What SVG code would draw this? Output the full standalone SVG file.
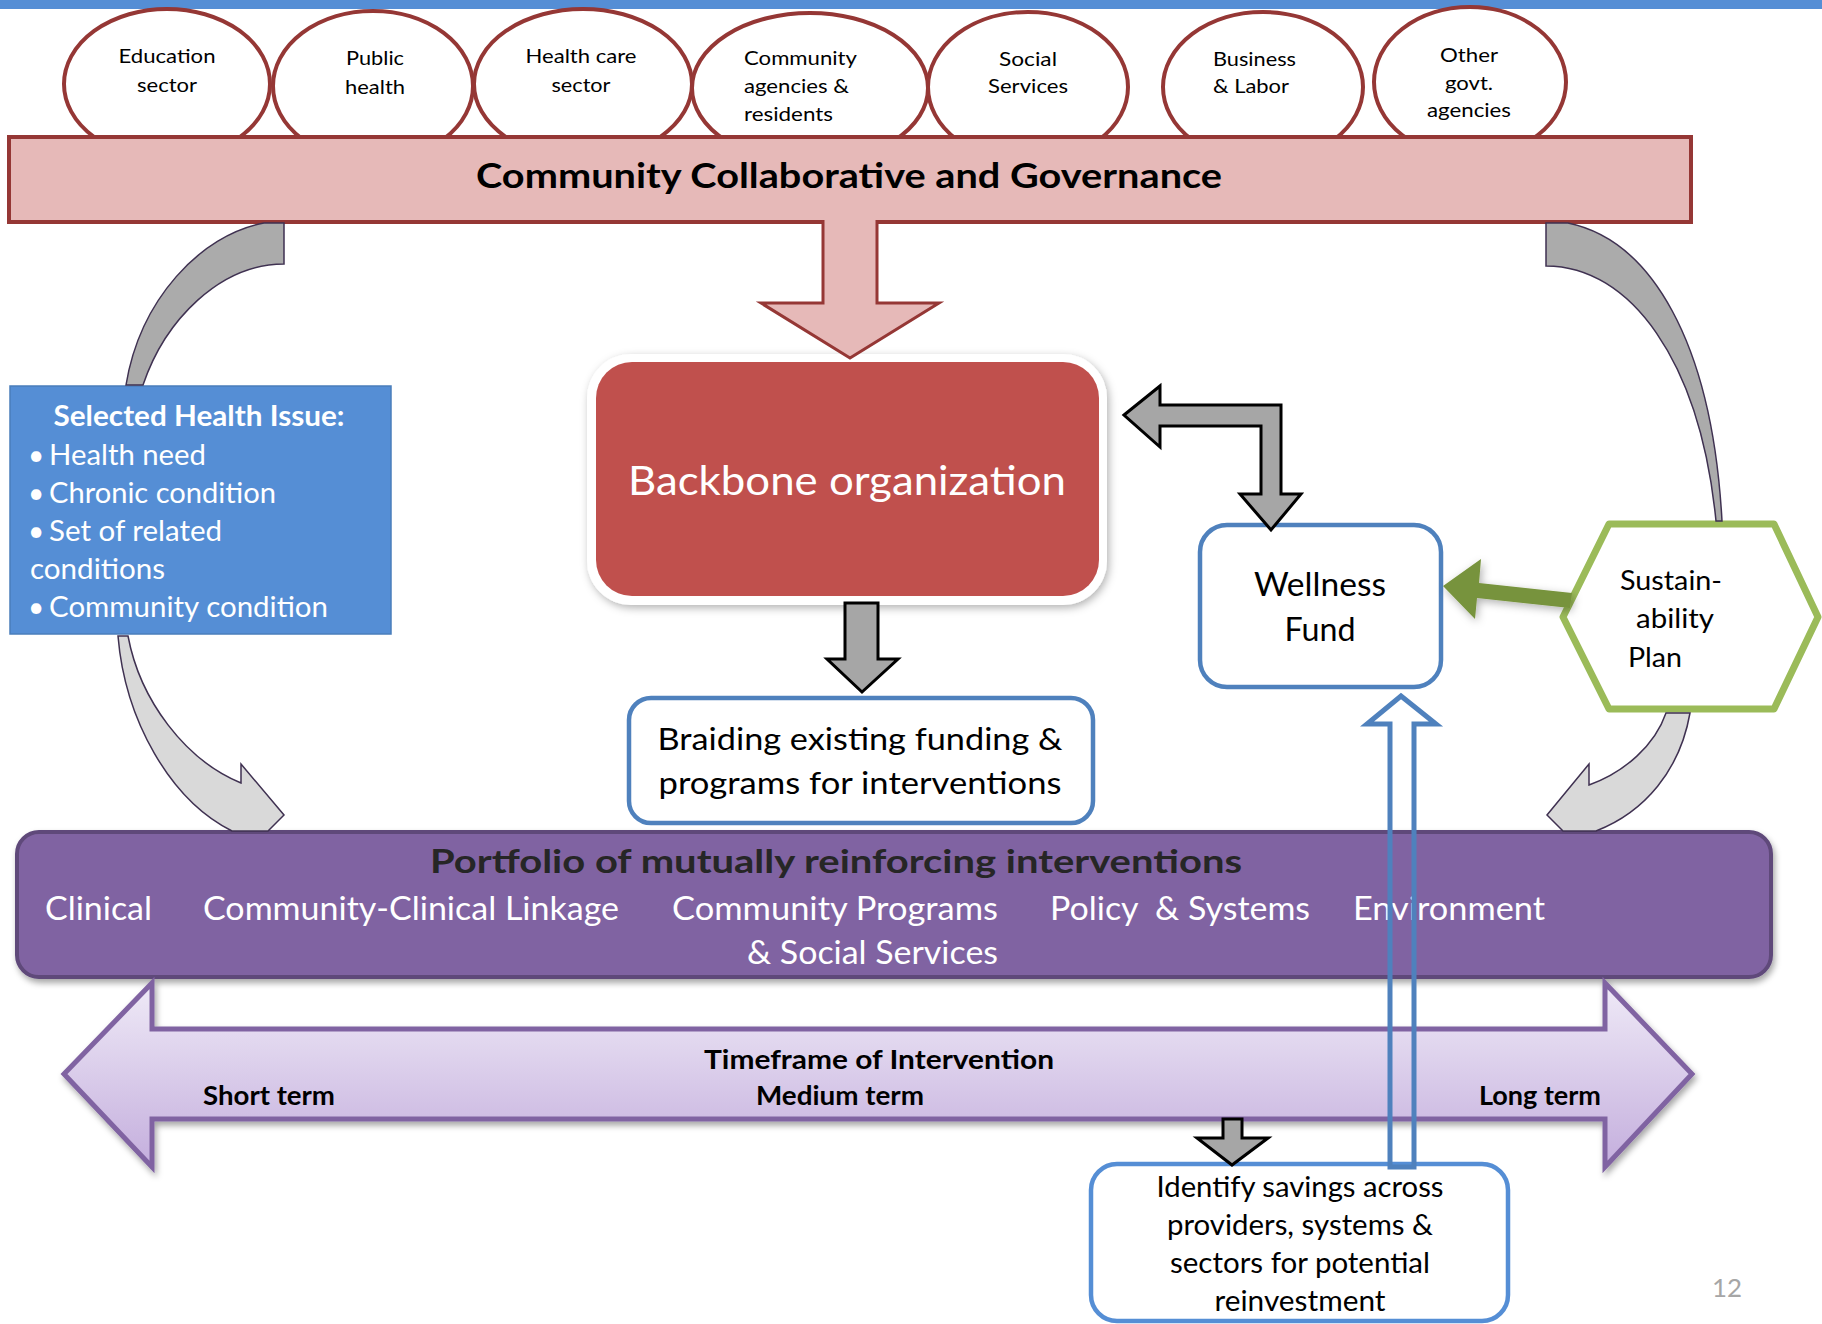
<svg xmlns="http://www.w3.org/2000/svg" width="1822" height="1324" viewBox="0 0 1822 1324">
<defs>
<style>
text{font-family:Lato,"Open Sans","Liberation Sans",sans-serif}
.el{fill:#fff;stroke:#953735;stroke-width:4}
.lbl{font-size:20px;fill:#000}
.box{fill:#fff;stroke:#4F81BD;stroke-width:4.5}
.gray{fill:#A6A6A6;stroke:#000;stroke-width:3;stroke-linejoin:miter}
.cdark{fill:#ABABAB;stroke:#3F3151;stroke-width:1.5}
.clight{fill:#D9D9D9;stroke:#3F3151;stroke-width:1.5}
.wht{fill:#fff}
.b{font-weight:bold}
</style>
<linearGradient id="tf" x1="0" y1="0" x2="0" y2="1">
<stop offset="0" stop-color="#EFEAF7"/>
<stop offset="1" stop-color="#C4AEDD"/>
</linearGradient>
<filter id="sh" x="-5%" y="-10%" width="112%" height="130%">
<feDropShadow dx="2" dy="4" stdDeviation="3" flood-color="#000" flood-opacity="0.35"/>
</filter>
<filter id="sh2" x="-10%" y="-10%" width="125%" height="130%">
<feDropShadow dx="2" dy="3" stdDeviation="4" flood-color="#000" flood-opacity="0.3"/>
</filter>
</defs>
<rect x="0" y="0" width="1822" height="9" fill="#558ED5"/>

<g id="n-education"><ellipse class="el" cx="167" cy="84" rx="103" ry="75"/>
<text class="lbl" x="167" y="63" text-anchor="middle" textLength="97" lengthAdjust="spacingAndGlyphs">Education</text>
<text class="lbl" x="167" y="92" text-anchor="middle" textLength="60" lengthAdjust="spacingAndGlyphs">sector</text></g>
<g id="n-publichealth"><ellipse class="el" cx="373" cy="86" rx="100" ry="75"/>
<text class="lbl" x="375" y="65" text-anchor="middle" textLength="58" lengthAdjust="spacingAndGlyphs">Public</text>
<text class="lbl" x="375" y="94" text-anchor="middle" textLength="60" lengthAdjust="spacingAndGlyphs">health</text></g>
<g id="n-healthcare"><ellipse class="el" cx="583" cy="84" rx="109" ry="75"/>
<text class="lbl" x="581" y="63" text-anchor="middle" textLength="111" lengthAdjust="spacingAndGlyphs">Health care</text>
<text class="lbl" x="581" y="92" text-anchor="middle" textLength="59" lengthAdjust="spacingAndGlyphs">sector</text></g>
<g id="n-community"><ellipse class="el" cx="810" cy="88" rx="118" ry="75"/>
<text class="lbl" x="744" y="65" textLength="113" lengthAdjust="spacingAndGlyphs">Community</text>
<text class="lbl" x="744" y="93" textLength="105" lengthAdjust="spacingAndGlyphs">agencies &amp;</text>
<text class="lbl" x="744" y="121" textLength="89" lengthAdjust="spacingAndGlyphs">residents</text></g>
<g id="n-social"><ellipse class="el" cx="1028" cy="87" rx="100" ry="75"/>
<text class="lbl" x="1028" y="66" text-anchor="middle" textLength="58" lengthAdjust="spacingAndGlyphs">Social</text>
<text class="lbl" x="1028" y="93" text-anchor="middle" textLength="80" lengthAdjust="spacingAndGlyphs">Services</text></g>
<g id="n-business"><ellipse class="el" cx="1263" cy="87" rx="100" ry="75"/>
<text class="lbl" x="1213" y="66" textLength="83" lengthAdjust="spacingAndGlyphs">Business</text>
<text class="lbl" x="1213" y="93" textLength="76" lengthAdjust="spacingAndGlyphs">&amp; Labor</text></g>
<g id="n-othergovt"><ellipse class="el" cx="1470" cy="82" rx="96" ry="75"/>
<text class="lbl" x="1469" y="62" text-anchor="middle" textLength="58" lengthAdjust="spacingAndGlyphs">Other</text>
<text class="lbl" x="1469" y="90" text-anchor="middle" textLength="48" lengthAdjust="spacingAndGlyphs">govt.</text>
<text class="lbl" x="1469" y="117" text-anchor="middle" textLength="84" lengthAdjust="spacingAndGlyphs">agencies</text></g>

<g id="n-collaborative"><rect x="9" y="137" width="1682" height="85" fill="#E6B9B8" stroke="#953735" stroke-width="4"/>
<text class="b" x="849" y="188" font-size="35" text-anchor="middle" fill="#000" textLength="746" lengthAdjust="spacingAndGlyphs">Community Collaborative and Governance</text></g>

<g id="n-healthissue"><rect x="10" y="386" width="381" height="248" fill="#558ED5" stroke="#4A7EBB" stroke-width="1.5"/>
<text class="b wht" x="199" y="426" font-size="28" text-anchor="middle" textLength="291" lengthAdjust="spacingAndGlyphs">Selected Health Issue:</text>
<text class="wht" x="28" y="465" font-size="28">•</text><text class="wht" x="49" y="465" font-size="28" textLength="157" lengthAdjust="spacingAndGlyphs">Health need</text>
<text class="wht" x="28" y="503" font-size="28">•</text><text class="wht" x="49" y="503" font-size="28" textLength="227" lengthAdjust="spacingAndGlyphs">Chronic condition</text>
<text class="wht" x="28" y="541" font-size="28">•</text><text class="wht" x="49" y="541" font-size="28" textLength="173" lengthAdjust="spacingAndGlyphs">Set of related</text>
<text class="wht" x="30" y="579" font-size="28" textLength="135" lengthAdjust="spacingAndGlyphs">conditions</text>
<text class="wht" x="28" y="617" font-size="28">•</text><text class="wht" x="49" y="617" font-size="28" textLength="279" lengthAdjust="spacingAndGlyphs">Community condition</text></g>

<g id="n-backbone"><rect x="587" y="354" width="520" height="251" rx="44" fill="#fff" filter="url(#sh2)"/>
<rect x="596" y="362" width="503" height="234" rx="36" fill="#C0504D"/>
<text class="wht" x="847" y="495" font-size="40" text-anchor="middle" textLength="438" lengthAdjust="spacingAndGlyphs">Backbone organization</text></g>

<g id="n-wellness"><rect class="box" x="1200" y="525" width="241" height="162" rx="27"/>
<text x="1320" y="596" font-size="33" text-anchor="middle" textLength="132" lengthAdjust="spacingAndGlyphs">Wellness</text>
<text x="1320" y="641" font-size="33" text-anchor="middle" textLength="71" lengthAdjust="spacingAndGlyphs">Fund</text></g>

<g id="n-sustainability"><polygon points="1563,617 1609,524 1774,524 1818,617 1774,709 1609,709" fill="#fff" stroke="#9BBB59" stroke-width="7" stroke-linejoin="round"/>
<text x="1620" y="590" font-size="26" textLength="102" lengthAdjust="spacingAndGlyphs">Sustain-</text>
<text x="1636" y="628" font-size="26" textLength="78" lengthAdjust="spacingAndGlyphs">ability</text>
<text x="1628" y="667" font-size="26" textLength="54" lengthAdjust="spacingAndGlyphs">Plan</text></g>

<g id="n-braiding"><rect class="box" x="629" y="698" width="464" height="125" rx="22"/>
<text x="860" y="750" font-size="31" text-anchor="middle" textLength="405" lengthAdjust="spacingAndGlyphs">Braiding existing funding &amp;</text>
<text x="860" y="794" font-size="31" text-anchor="middle" textLength="403" lengthAdjust="spacingAndGlyphs">programs for interventions</text></g>

<g id="n-portfolio"><rect x="17" y="832" width="1754" height="145" rx="22" fill="#8064A2" stroke="#5F497A" stroke-width="4" filter="url(#sh)"/>
<text class="b" x="836" y="873" font-size="32" text-anchor="middle" fill="#262626" textLength="812" lengthAdjust="spacingAndGlyphs">Portfolio of mutually reinforcing interventions</text>
<text class="wht" x="45" y="920" font-size="32" textLength="107" lengthAdjust="spacingAndGlyphs">Clinical</text>
<text class="wht" x="203" y="920" font-size="32" textLength="416" lengthAdjust="spacingAndGlyphs">Community-Clinical Linkage</text>
<text class="wht" x="672" y="920" font-size="32" textLength="326" lengthAdjust="spacingAndGlyphs">Community Programs</text>
<text class="wht" x="1050" y="920" font-size="32" xml:space="preserve" textLength="260" lengthAdjust="spacingAndGlyphs">Policy  &amp; Systems</text>
<text class="wht" x="1353" y="920" font-size="32" textLength="192" lengthAdjust="spacingAndGlyphs">Environment</text>
<text class="wht" x="747" y="964" font-size="32" textLength="251" lengthAdjust="spacingAndGlyphs">&amp; Social Services</text></g>

<g id="n-timeframe"><polygon points="64,1074 152,983 152,1029 1605,1029 1605,983 1692,1074 1605,1167 1605,1119 152,1119 152,1167" fill="url(#tf)" stroke="#8064A2" stroke-width="5" stroke-linejoin="miter" filter="url(#sh)"/>
<text class="b" x="879" y="1069" font-size="26" text-anchor="middle" fill="#000" textLength="350" lengthAdjust="spacingAndGlyphs">Timeframe of Intervention</text>
<text class="b" x="203" y="1105" font-size="26" fill="#000" textLength="132" lengthAdjust="spacingAndGlyphs">Short term</text>
<text class="b" x="756" y="1105" font-size="26" fill="#000" textLength="168" lengthAdjust="spacingAndGlyphs">Medium term</text>
<text class="b" x="1479" y="1105" font-size="26" fill="#000" textLength="122" lengthAdjust="spacingAndGlyphs">Long term</text></g>

<g id="n-identify"><rect x="1091" y="1164" width="417" height="157" rx="26" fill="#fff" stroke="#558ED5" stroke-width="4.5"/>
<text x="1300" y="1197" font-size="28" text-anchor="middle" textLength="287" lengthAdjust="spacingAndGlyphs">Identify savings across</text>
<text x="1300" y="1235" font-size="28" text-anchor="middle" textLength="266" lengthAdjust="spacingAndGlyphs">providers, systems &amp;</text>
<text x="1300" y="1273" font-size="28" text-anchor="middle" textLength="260" lengthAdjust="spacingAndGlyphs">sectors for potential</text>
<text x="1300" y="1311" font-size="28" text-anchor="middle" textLength="171" lengthAdjust="spacingAndGlyphs">reinvestment</text></g>

<g id="page-number"><text x="1712" y="1297" font-size="25" fill="#A6A6A6" textLength="30" lengthAdjust="spacingAndGlyphs">12</text></g>

<g id="connectors">
<path class="cdark" d="M284 223 L284 264 C220 264 165 320 143 385 L126 385 C140 300 200 235 264 223 Z"/>
<path class="clight" d="M128 636 C140 700 185 760 241 783 L241 764 L284 815 L268 831 L232 831 C170 800 125 720 118 636 Z"/>
<path class="cdark" d="M1546 223 L1546 266 C1630 266 1700 360 1716 521 L1722 521 C1712 340 1650 240 1568 223 Z"/>
<path class="clight" d="M1666 713 C1655 745 1625 772 1589 785 L1589 764 L1547 815 L1563 831 L1596 831 C1645 812 1680 770 1690 713 Z"/>
<polygon points="823,220 877,220 877,303 939,303 850,358 761,303 823,303" fill="#E6B9B8"/>
<polyline points="823,220 823,303 761,303 850,358 939,303 877,303 877,220" fill="none" stroke="#953735" stroke-width="3" stroke-linejoin="miter"/>
<polygon class="gray" points="845,603 878,603 878,659 898,659 862,692 827,659 845,659"/>
<polygon class="gray" points="1124,415 1160,386 1160,405 1281,405 1281,494 1301,494 1271,530 1240,494 1261,494 1261,426 1160,426 1160,447"/>
<polygon points="1443,586 1481,559 1479,583 1572,593 1570,608 1477,598 1475,619" fill="#77933C" filter="url(#sh2)"/>
<polygon class="gray" points="1223,1119 1242,1119 1242,1138 1268,1138 1232,1165 1197,1138 1223,1138"/>
<path d="M1390 1167 L1390 724 L1367 724 L1401 696 L1436 724 L1414 724 L1414 1167 Z" fill="none" stroke="#4F81BD" stroke-width="5" stroke-linejoin="miter"/>
</g>
</svg>
